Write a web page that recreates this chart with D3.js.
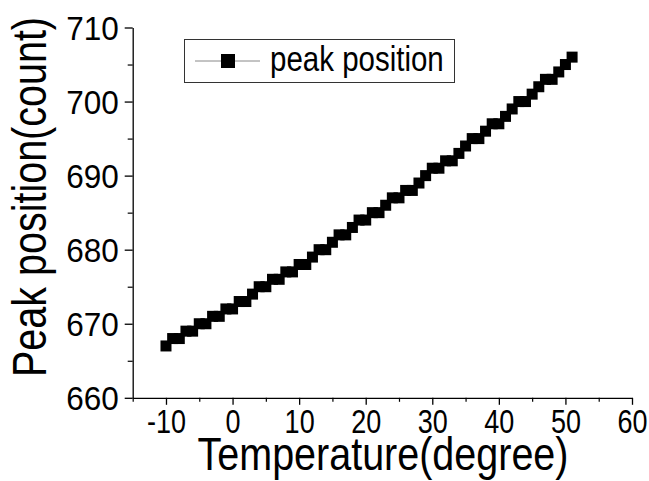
<!DOCTYPE html>
<html>
<head>
<meta charset="utf-8">
<script src="https://cdn.jsdelivr.net/npm/d3@7"></script>
<style>
html,body{margin:0;padding:0;background:#fff;}
svg{display:block;}
text{font-family:"Liberation Sans",Arial,sans-serif;fill:#000;}
</style>
</head>
<body>
<svg id="chart" width="649" height="481"></svg>
<script>
// Data
const temperature = [-10,-9,-8,-7,-6,-5,-4,-3,-2,-1,0,1,2,3,4,5,6,7,8,9,10,11,12,13,14,15,16,17,18,19,20,21,22,23,24,25,26,27,28,29,30,31,32,33,34,35,36,37,38,39,40,41,42,43,44,45,46,47,48,49,50,51];
const peakPosition = [667,668,668,669,669,670,670,671,671,672,672,673,673,674,675,675,676,676,677,677,678,678,679,680,680,681,682,682,683,684,684,685,685,686,687,687,688,688,689,690,691,691,692,692,693,694,695,695,696,697,697,698,699,700,700,701,702,703,703,704,705,706];
const xTicks = [-10,0,10,20,30,40,50,60];
const xMinor = [-15,-5,5,15,25,35,45,55];
const yTicks = [660,670,680,690,700,710];
const yMinor = [665,675,685,695,705];
const seriesName = "peak position";
const xTitle = "Temperature(degree)";
const yTitle = "Peak position(count)";

const svg = d3.select("#chart");
const x = d3.scaleLinear().domain([-15,60]).range([132.7,632]);
const y = d3.scaleLinear().domain([660,710]).range([397.8,27.5]);

// minor ticks
svg.append("g").attr("transform",`translate(0,${y(660)})`)
  .call(d3.axisBottom(x).tickValues(xMinor).tickSize(4).tickFormat(""))
  .call(g=>g.select(".domain").remove())
  .selectAll("line").attr("stroke","#000").attr("stroke-width",1.2);
svg.append("g").attr("transform",`translate(${x(-15)},0)`)
  .call(d3.axisLeft(y).tickValues(yMinor).tickSize(5).tickFormat(""))
  .call(g=>g.select(".domain").remove())
  .selectAll("line").attr("stroke","#000").attr("stroke-width",1.2);

// major axes
const gx = svg.append("g").attr("transform",`translate(0,${y(660)})`)
  .call(d3.axisBottom(x).tickValues(xTicks).tickSize(7).tickSizeOuter(0).tickFormat(d3.format("d")));
gx.select(".domain").attr("stroke","#000").attr("stroke-width",1.3);
gx.selectAll(".tick line").attr("stroke","#000").attr("stroke-width",1.3);
gx.selectAll(".tick text")
  .attr("font-size",27).attr("font-family","Liberation Sans, Arial, sans-serif")
  .attr("y",0).attr("dy",0)
  .attr("transform","translate(0,35) scale(1,1.2)")
  .text(d=>d<0?"-"+Math.abs(d):d);

const gy = svg.append("g").attr("transform",`translate(${x(-15)},0)`)
  .call(d3.axisLeft(y).tickValues(yTicks).tickSize(8).tickSizeOuter(0).tickFormat(d3.format("d")));
gy.select(".domain").attr("stroke","#000").attr("stroke-width",1.3);
gy.selectAll(".tick line").attr("stroke","#000").attr("stroke-width",1.3);
gy.selectAll(".tick text")
  .attr("font-size",31.5).attr("font-family","Liberation Sans, Arial, sans-serif")
  .attr("x",0).attr("dy","0.36em")
  .attr("transform","translate(-14,0) scale(1,1.05)");

// line
const pts = temperature.map((t,i)=>[t,peakPosition[i]]);
svg.append("path").datum(pts)
  .attr("fill","none").attr("stroke","#888").attr("stroke-width",1)
  .attr("d",d3.line().x(d=>x(d[0])).y(d=>y(d[1])));

// markers
const ms = 11;
svg.append("g").selectAll("rect").data(pts).join("rect")
  .attr("x",d=>x(d[0])-ms/2).attr("y",d=>y(d[1])-ms/2)
  .attr("width",ms).attr("height",ms).attr("fill","#000");

// titles
svg.append("text").attr("transform","translate(383,470) scale(1,1.15)").attr("text-anchor","middle")
  .attr("font-size",39.5).text(xTitle);
svg.append("text").attr("transform","translate(46,197) rotate(-90) scale(1,1.22)").attr("text-anchor","middle")
  .attr("font-size",39.5).text(yTitle);

// legend
const lg = svg.append("g");
lg.append("rect").attr("x",184.5).attr("y",39.5).attr("width",270).attr("height",43)
  .attr("fill","#fff").attr("stroke","#333").attr("stroke-width",1);
lg.append("line").attr("x1",195).attr("x2",260).attr("y1",61).attr("y2",61)
  .attr("stroke","#888").attr("stroke-width",1);
lg.append("rect").attr("x",221).attr("y",54).attr("width",14).attr("height",14).attr("fill","#000");
lg.append("text").attr("transform","translate(270,71) scale(1,1.18)").attr("font-size",29.5).text(seriesName);
</script>
</body>
</html>
